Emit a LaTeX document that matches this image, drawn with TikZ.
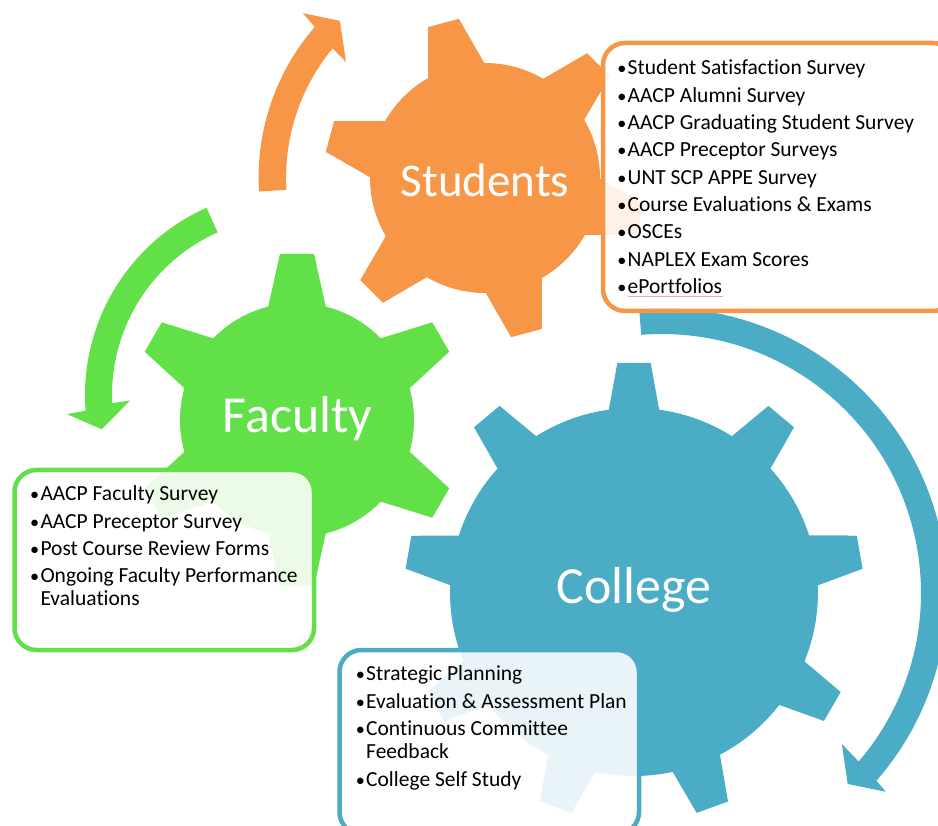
\documentclass[tikz,border=0pt]{standalone}
\usepackage{fontspec}
\usepackage{graphicx}
\setmainfont[Ligatures=NoCommon]{Carlito}
\definecolor{gOrange}{HTML}{F79646}
\definecolor{gGreen}{HTML}{62E048}
\definecolor{gBlue}{HTML}{4BACC6}
\definecolor{spellpink}{HTML}{F4A6A6}
\newcommand{\bl}{\makebox[11pt][l]{\hspace{0.6pt}\scalebox{0.85}{\textbullet}}}
\begin{document}
\begin{tikzpicture}[x=1pt,y=-1pt,
  gearlabel/.style={text=white, anchor=base, inner sep=0pt},
  item/.style={anchor=base west, inner sep=0pt, font=\fontsize{21.5}{23}\selectfont, text=black},
  infobox/.style={rounded corners=22pt, line width=4.5pt, fill=white, fill opacity=0.88},
]
\useasboundingbox (0,0) rectangle (938,826);
\clip (0,0) rectangle (938,826);

% ---------- gears ----------
\begin{scope}[shift={(485,178)}, yscale=-1]
  \fill[gOrange] (0,0) circle[radius=115];
  \foreach \a in {45,105,...,345}
    \fill[gOrange, rotate=-\a] (100,-32) -- (160.5,-16) -- (160.5,16) -- (100,32) -- cycle;
\end{scope}
\begin{scope}[shift={(297,420)}, yscale=-1]
  \fill[gGreen] (0,0) circle[radius=117];
  \foreach \a in {30,90,...,330}
    \fill[gGreen, rotate=-\a] (100,-31.8) -- (166,-17) -- (166,17) -- (100,31.8) -- cycle;
\end{scope}
\begin{scope}[shift={(634,592)}, yscale=-1]
  \fill[gBlue] (0,0) circle[radius=184];
  \foreach \a in {10,50,...,370}
    \fill[gBlue, rotate=-\a] (165,-28.3) -- (229,-16.7) -- (229,16.7) -- (165,28.3) -- cycle;
\end{scope}

% ---------- circular arrows ----------
\begin{scope}[shift={(488.6,177.5)}, yscale=-1]
  \fill[gOrange] (183.5:230) arc[start angle=183.5, end angle=139.1, radius=230]
    -- (138.5:248) -- (133.5:216) -- (141:183.5) -- (140.4:202.5)
    arc[start angle=140.4, end angle=183.5, radius=202.5] -- cycle;
\end{scope}
\begin{scope}[shift={(290,395)}, yscale=-1]
  \fill[gGreen] (114:205) arc[start angle=114, end angle=184.4, radius=205]
    -- (184.9:224) -- (190.3:191.4) -- (182:160) -- (182.6:178)
    arc[start angle=182.6, end angle=114, radius=178] -- cycle;
\end{scope}
\begin{scope}[shift={(662,593)}, yscale=-1]
  \fill[gBlue] (94.6:285) arc[start angle=94.6, end angle=-41.2, radius=285]
    -- (-41.6:299.4) -- (-45.8:266.4) -- (-40:234.7) -- (-40.6:259)
    arc[start angle=-40.6, end angle=94.6, radius=259] -- cycle;
\end{scope}

% ---------- info boxes ----------
\draw[infobox, draw=gOrange] (603,43) rectangle (955,311);
\draw[infobox, draw=gGreen] (14.5,470) rectangle (314,650);
\draw[infobox, draw=gBlue] (339.5,650) rectangle (639,834);

% ---------- gear labels ----------
\node[gearlabel, font=\fontsize{47}{47}\selectfont] (students) at (485,197) {Students};
\node[gearlabel, font=\fontsize{52}{52}\selectfont] (faculty) at (297.5,433) {Faculty};
\node[gearlabel, font=\fontsize{52}{52}\selectfont] (college) at (634,603) {College};

% ---------- student items ----------
\foreach \t [count=\i from 0] in {Student Satisfaction Survey, AACP Alumni Survey,
  AACP Graduating Student Survey, AACP Preceptor Surveys, UNT SCP APPE Survey,
  Course Evaluations \& Exams, OSCEs, NAPLEX Exam Scores, ePortfolios}
  \node[item] (s\i) at (616.5,{75+27.3*\i}) {\bl\t};
\draw[spellpink, line width=0.9pt] (627.7,296.5) -- (722.5,296.5);

% ---------- faculty items ----------
\node[item] (f1) at (29.3,500.7) {\bl AACP Faculty Survey};
\node[item] (f2) at (29.3,528) {\bl AACP Preceptor Survey};
\node[item] (f3) at (29.3,555) {\bl Post Course Review Forms};
\node[item] (f4) at (29.3,582.7) {\bl Ongoing Faculty Performance};
\node[item] (f5) at (40.3,605.7) {Evaluations};

% ---------- college items ----------
\node[item] (c1) at (355,680) {\bl Strategic Planning};
\node[item] (c2) at (355,708) {\bl Evaluation \& Assessment Plan};
\node[item] (c3) at (355,735) {\bl Continuous Committee};
\node[item] (c4) at (366,758.3) {Feedback};
\node[item] (c5) at (355,786) {\bl College Self Study};
\end{tikzpicture}
\end{document}
